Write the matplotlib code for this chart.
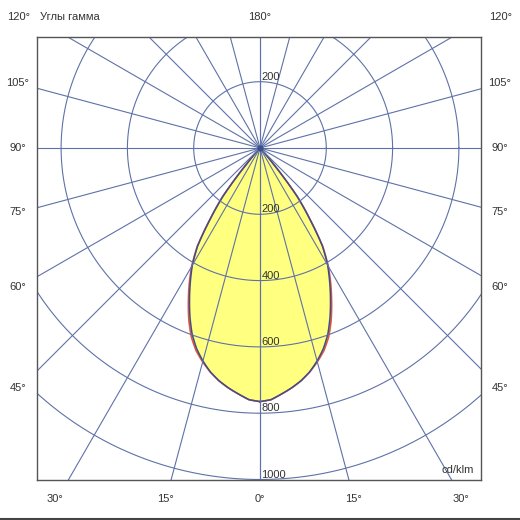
import numpy as np
import matplotlib
matplotlib.use("Agg")
import matplotlib.pyplot as plt
from matplotlib.lines import Line2D

# ---- data (cd/klm vs gamma angle, degrees) ----
gamma = [0, 2.5, 5, 7.5, 10, 12.5, 15, 17.5, 20, 22.5, 25, 27.5, 30,
         32.5, 35, 37.5, 40, 42.5, 45, 60, 90, 120, 150, 180]
# C90-C270 plane (blue)
i_c90 = [765, 760, 745, 730, 713, 692, 665, 635, 598, 552, 503, 455, 408,
         350, 262, 185, 60, 5, 0, 0, 0, 0, 0, 0]
# C0-C180 plane (red)
i_c0 = [765, 760, 745, 730, 713, 692, 668, 641, 606, 561, 511, 462, 412,
        352, 263, 185, 60, 5, 0, 0, 0, 0, 0, 0]

ring_values = [200, 400, 600, 800, 1000]
spoke_angles = list(range(0, 181, 15))
side_labels = ["105°", "90°", "75°", "60°", "45°"]
bottom_labels = ["30°", "15°", "0°", "15°", "30°"]
title_text = "Углы гамма"
unit_text = "cd/klm"

W = H = 520
plt.rcParams['font.family'] = ['Liberation Sans', 'DejaVu Sans']
fig = plt.figure(figsize=(5.2, 5.2), dpi=100)

# rectangular frame (grid) in pixels
L, R, T, B = 37, 481, 37, 480
ax = fig.add_axes([L / W, 1 - B / H, (R - L) / W, (B - T) / H])
cx, cy = 260, 148
s = 0.3315  # px per cd/klm
ax.set_xlim((L - cx) / s, (R - cx) / s)
ax.set_ylim(-(B - cy) / s, (cy - T) / s)
ax.set_xticks([])
ax.set_yticks([])
for sp in ax.spines.values():
    sp.set_color('#555555')
    sp.set_linewidth(1.0)
    sp.set_zorder(10)

grid_c = '#5f72a8'
text_c = '#333333'

# polar overlay for the intensity curves (same centre and scale)
rmax = 1000
rp = rmax * s
pax = fig.add_axes([(cx - rp) / W, 1 - (cy + rp) / H, 2 * rp / W, 2 * rp / H],
                   projection='polar', zorder=0.5)
pax.set_theta_zero_location('S')
pax.set_rlim(0, rmax)
pax.set_axis_off()
pax.patch.set_visible(False)
ax.set_zorder(1)
ax.patch.set_visible(False)
fig.patch.set_facecolor('white')


def full_curve(g, vals):
    g = np.radians(np.asarray(g, float))
    v = np.asarray(vals, float)
    th = np.concatenate([g, 2 * np.pi - g[::-1]])
    rr = np.concatenate([v, v[::-1]])
    return th, rr


thr, rr_red = full_curve(gamma, i_c0)
thb, rr_blue = full_curve(gamma, i_c90)

fill = pax.fill(thr, rr_red, color='#ffff80', lw=0, zorder=1)
for p in fill:
    p.get_path()._interpolation_steps = 40
lr, = pax.plot(thr, rr_red, color='#e8533c', lw=1.2, zorder=3)
lb, = pax.plot(thb, rr_blue, color='#3c4f8c', lw=1.1, zorder=4)
for ln in (lr, lb):
    ln.get_path()._interpolation_steps = 40

# grid: rings
t = np.linspace(0, 2 * np.pi, 721)
for r in ring_values:
    ax.plot(r * np.cos(t), r * np.sin(t), color=grid_c, lw=0.8, zorder=2)
# grid: spokes
Rlen = 2000
for a in spoke_angles:
    ar = np.radians(a)
    for sgn in (1, -1):
        ax.plot([0, sgn * Rlen * np.sin(ar)], [0, -Rlen * np.cos(ar)],
                color=grid_c, lw=0.8, zorder=2)
ax.plot([0], [0], 'o', ms=3.5, color='#3c4f8c', zorder=5)

# ring value labels
ax.annotate(str(ring_values[0]), (0, ring_values[0]), xytext=(1, 0),
            textcoords='offset points', ha='left', va='bottom',
            fontsize=8, color=text_c, zorder=5)
for r in ring_values:
    ax.annotate(str(r), (0, -r), xytext=(1, 0), textcoords='offset points',
                ha='left', va='bottom', fontsize=8, color=text_c, zorder=5)

ax.text(0.985, 0.012, unit_text, transform=ax.transAxes, ha='right',
        va='bottom', fontsize=8, color=text_c, zorder=5)


def ftext(x, y, s_, **kw):
    fig.text(x / W, 1 - y / H, s_, fontsize=8, color=text_c, va='center', **kw)


ftext(19, 17, "120°", ha='center')
ftext(40, 17, title_text, ha='left')
ftext(260, 17, "180°", ha='center')
ftext(501, 17, "120°", ha='center')
for lab, y in zip(side_labels, [83, 148, 212, 287, 388]):
    ftext(18, y, lab, ha='center')
    ftext(500, y, lab, ha='center')
for lab, x in zip(bottom_labels, [55, 165, 260, 353, 461]):
    ftext(x, 499, lab, ha='center')

fig.add_artist(Line2D([0, 1], [1 - 518.5 / H, 1 - 518.5 / H],
                      transform=fig.transFigure, color='#444444', lw=1.5))

fig.savefig("out.png", dpi=100, facecolor='white')
